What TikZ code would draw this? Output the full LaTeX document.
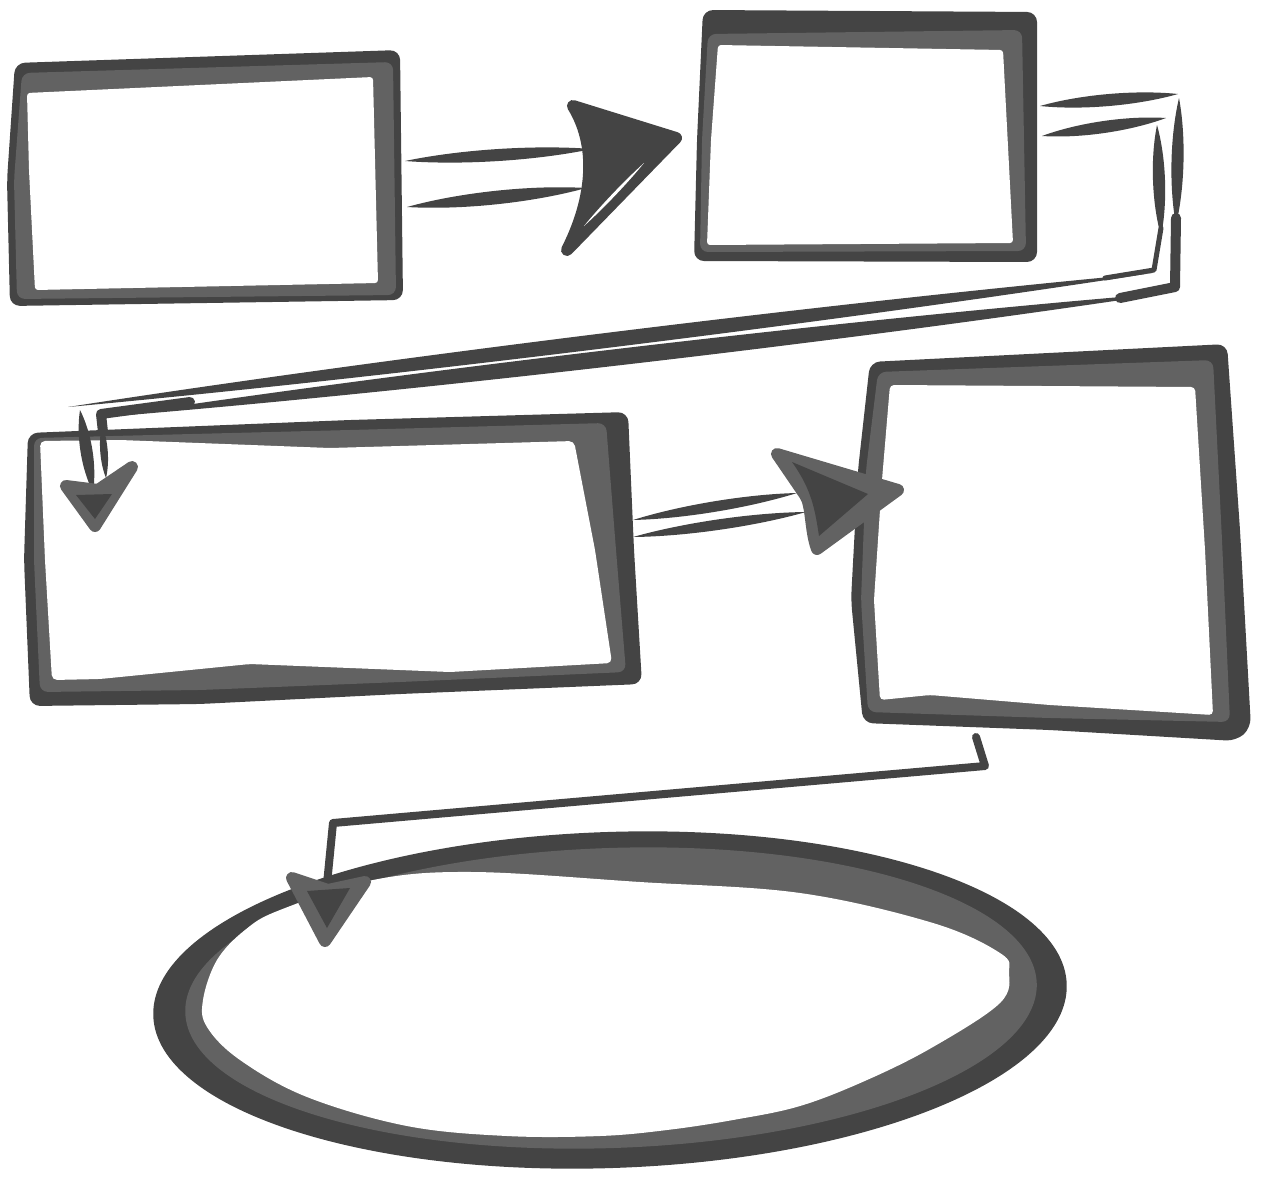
\documentclass[tikz,border=0pt]{standalone}
\usetikzlibrary{calc}
\definecolor{dk}{RGB}{68,68,68}
\definecolor{lt}{RGB}{98,98,98}
% tapered marker stroke between two named points
\newcommand\mytaper[4][dk]{\fill[#1] (#2) .. controls ($(#2)!.3!(#3)!#4!90:(#3)$) and ($(#2)!.7!(#3)!#4!90:(#3)$) .. (#3) .. controls ($(#2)!.7!(#3)!#4!-90:(#3)$) and ($(#2)!.3!(#3)!#4!-90:(#3)$) .. (#2) -- cycle;}
\tikzset{
  headbody/.style={fill=#1, draw=#1, line width=12pt, line join=round},
  thickline/.style={draw=dk, line width=#1, line join=round, line cap=round},
}
\begin{document}
\begin{tikzpicture}[x=1pt, y=-1pt, line join=round]
\useasboundingbox (0,0) rectangle (1263,1178);
\fill[white] (0,0) rectangle (1263,1178);

% ---------------- ellipse (final step) ----------------
\coordinate (ell) at (610,1000);
\fill[dk, rotate around={2:(ell)}] (ell) ellipse [x radius=457, y radius=168];
\fill[lt, rotate around={2:(611,998)}] (611,998) ellipse [x radius=426, y radius=150];
\fill[white] plot[smooth cycle, tension=0.6] coordinates {
 (280,910) (373,880) (473,872) (640,882) (800,893) (933,923) (1000,953)
 (1009,972) (1000,1003) (933,1047) (867,1080) (800,1106) (733,1120)
 (667,1130) (600,1136) (507,1136) (407,1126) (307,1097) (240,1060)
 (207,1027) (203,1000) (217,960) (245,930)};

% ---------------- box 1 ----------------
\coordinate (b1) at (207,180);
\fill[dk, rounded corners=10] (15,63) -- (400,50) -- (403,300) -- (10,306) -- (7,180) -- cycle;
\fill[lt, rounded corners=8] (22,73) -- (393,62) -- (396,295) -- (17,299) -- (14,180) -- cycle;
\fill[white, rounded corners=3] (27,93) -- (373,77) -- (378,283) -- (35,290) -- (29,170) -- cycle;

% ---------------- box 2 ----------------
\coordinate (b2) at (865,140);
\fill[dk, rounded corners=10] (703,10) -- (1037,12) -- (1037,262) -- (694,261) -- (697,140) -- cycle;
\fill[lt, rounded corners=8] (708,34) -- (1022,30) -- (1026,251) -- (700,252) -- (702,140) -- cycle;
\fill[white, rounded corners=3] (718,45) -- (1003,50) -- (1013,243) -- (707,245) -- (711,140) -- cycle;

% ---------------- box 3 ----------------
\coordinate (b3) at (330,560);
\fill[dk, rounded corners=10] (28,433) -- (350,420) -- (628,412) -- (634,550) -- (642,684) -- (400,694) -- (200,704) -- (30,706) -- (24,560) -- cycle;
\fill[lt, rounded corners=8] (34,438) -- (350,430) -- (606,423) -- (616,550) -- (626,672) -- (400,682) -- (200,690) -- (40,692) -- (34,560) -- cycle;
\fill[white, rounded corners=5] (40,441) -- (120,440) -- (330,448) -- (574,441) -- (595,550) -- (612,663) -- (450,672) -- (250,664) -- (100,679) -- (52,680) -- (45,560) -- cycle;

% ---------------- box 4 ----------------
\coordinate (b4) at (1050,545);
\fill[dk, rounded corners=10] (870,362) -- (1227,344) -- (1240,530) -- (1251,728) -- (1236,741) -- (1050,730) -- (863,723) -- (851,600) -- (858,470) -- cycle;
\fill[lt, rounded corners=8] (878,372) -- (1213,360) -- (1222,540) -- (1230,722) -- (1050,718) -- (868,712) -- (861,600) -- (866,470) -- cycle;
\fill[white, rounded corners=4] (890,385) -- (1195,387) -- (1205,550) -- (1213,715) -- (1050,705) -- (930,695) -- (880,700) -- (874,600) -- (882,480) -- cycle;

% ---------------- connector 1: box1 -> box2 ----------------
\coordinate (c1ua) at (405,161); \coordinate (c1ub) at (592,149);
\coordinate (c1la) at (407,207); \coordinate (c1lb) at (586,188);
\mytaper{c1ua}{c1ub}{8pt}
\mytaper{c1la}{c1lb}{9pt}
\coordinate (h1) at (676,138);
\path[headbody=dk] (573,106) -- (h1) -- (567,250) .. controls (590,205) and (600,150) .. (573,106) -- cycle;
\coordinate (w1a) at (644,163); \coordinate (w1b) at (584,226);
\mytaper[white]{w1a}{w1b}{2pt}

% ---------------- connector 2: box2 -> box3 ----------------
\coordinate (c2a1) at (1040,106); \coordinate (c2a2) at (1178,94);
\coordinate (c2b1) at (1042,136); \coordinate (c2b2) at (1166,118);
\coordinate (c2c1) at (1179,98);  \coordinate (c2c2) at (1176,225);
\coordinate (c2d1) at (1157,125); \coordinate (c2d2) at (1161,236);
\coordinate (c2e1) at (1168,293); \coordinate (c2e2) at (105,417);
\coordinate (c2f1) at (1152,273); \coordinate (c2f2) at (68,407);
\coordinate (c2g1) at (80,410);   \coordinate (c2g2) at (93,492);
\coordinate (c2k1) at (102,425);  \coordinate (c2k2) at (106,478);
\mytaper{c2a1}{c2a2}{8pt}
\mytaper{c2b1}{c2b2}{8pt}
\mytaper{c2c1}{c2c2}{8pt}
\mytaper{c2d1}{c2d2}{8pt}
\draw[thickline=10pt] (1176,218) -- (1175,287) -- (1120,298);
\draw[thickline=5pt] (1161,228) -- (1154,270) -- (1105,278);
\mytaper{c2e1}{c2e2}{11pt}
\mytaper{c2f1}{c2f2}{10pt}
\draw[thickline=10pt] (190,402) -- (101,414) -- (103,432);
\mytaper{c2k1}{c2k2}{5pt}
\mytaper{c2g1}{c2g2}{8pt}
\coordinate (h2) at (95,526);
\path[headbody=lt] (66,486) -- (h2) -- (132,467) -- (98,490) -- cycle;
\fill[dk] (76,495) -- (95,519) -- (112,494) -- cycle;

% ---------------- connector 3: box3 -> box4 ----------------
\coordinate (c3u1) at (633,520); \coordinate (c3u2) at (797,493);
\coordinate (c3l1) at (633,537); \coordinate (c3l2) at (806,512);
\mytaper{c3u1}{c3u2}{7pt}
\mytaper{c3l1}{c3l2}{7pt}
\coordinate (h3) at (898,490);
\path[headbody=lt] (777,454) -- (h3) -- (817,549) .. controls (810,530) and (812,505) .. (805,495) -- cycle;
\fill[dk] (792,462) -- (868,494) -- (819,536) .. controls (815,510) and (812,490) .. cycle;

% ---------------- connector 4: box4 -> ellipse ----------------
\coordinate (c4a) at (976,737); \coordinate (c4b) at (985,766);
\coordinate (c4c) at (333,823); \coordinate (c4d) at (327,884);
\draw[thickline=8pt] (c4a) -- (c4b) -- (c4c) -- (c4d);
\coordinate (h4) at (325,941);
\path[headbody=lt] (292,878) -- (h4) -- (365,882) -- (328,890) -- cycle;
\fill[dk] (307,891) -- (350,888) -- (327,928) -- cycle;
\end{tikzpicture}
\end{document}
